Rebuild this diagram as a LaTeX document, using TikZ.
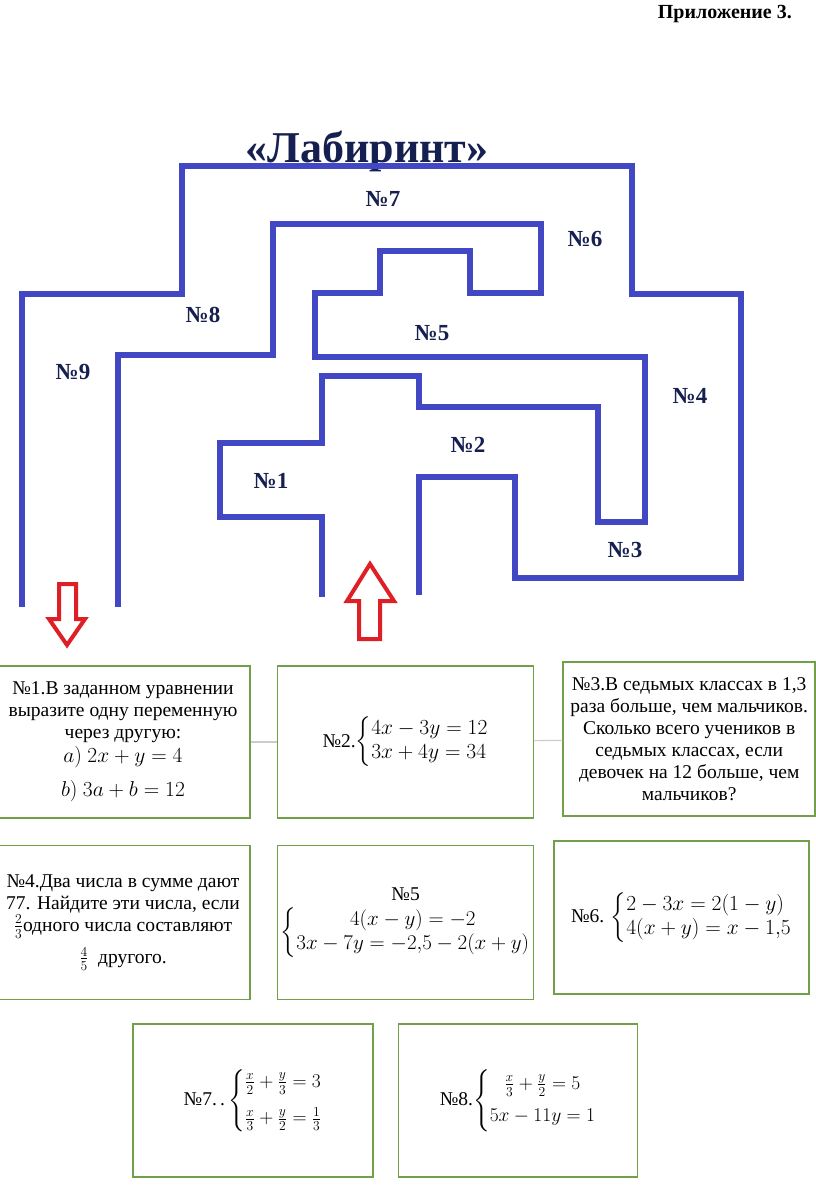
\RequirePackage{fix-cm}
\documentclass[tikz,border=0pt]{standalone}
\usepackage{fontspec}
\setmainfont{Liberation Serif}
\usepackage{amsmath}
\usetikzlibrary{positioning}

\definecolor{wallblue}{RGB}{66,72,196}
\definecolor{inkblue}{RGB}{22,32,80}
\definecolor{boxgreen}{RGB}{114,160,72}
\definecolor{arrowred}{RGB}{222,32,38}

\newcommand{\eqsize}{\fontsize{21.5}{20}\selectfont}
\newcommand{\eqsys}[2][l]{\left\{\def\arraystretch{1.2}\begin{array}{@{}#1@{}}#2\end{array}\right.}

\begin{document}
\begin{tikzpicture}[
    x=1pt, y=-1pt,
    every node/.style={font=\rmfamily\fontsize{19.5}{22}\selectfont},
    wall/.style={
        line width=6pt,
        draw=wallblue
    },
    room/.style={
        font=\rmfamily\fontsize{23}{26}\selectfont\bfseries,
        text=inkblue
    },
    task/.style={
        rectangle,
        draw=boxgreen,
        line width=1.6pt,
        align=center,
        minimum width=254pt,
        minimum height=152pt
    },
    link/.style={
        draw=gray!40,
        line width=1.2pt
    },
    pointer/.style={
        draw=arrowred,
        line width=4pt,
        fill=white
    }
]
\useasboundingbox (0,0) rectangle (816,1200);

% Header
\node (appendix) [font=\fontsize{20}{22}\selectfont\bfseries, inner sep=0pt, anchor=base east] at (792,18) {Приложение 3.};
\node (title) [font=\fontsize{44}{48}\selectfont\bfseries, text=inkblue, inner sep=0pt, anchor=base] at (367,162) {«Лабиринт»};

% Maze walls
\draw [wall] (22,607) -- (22,294) -- (182,294) -- (182,166) -- (632,166) -- (632,294)
    -- (741,294) -- (741,578) -- (515,578) -- (515,477) -- (419,477) -- (419,595);
\draw [wall] (118,607) -- (118,355) -- (273,355) -- (273,224) -- (541,224) -- (541,293)
    -- (470,293) -- (470,251) -- (380,251) -- (380,293) -- (315,293) -- (315,357)
    -- (645,357) -- (645,522) -- (598,522) -- (598,407) -- (419,407) -- (419,376)
    -- (322,376) -- (322,443) -- (220,443) -- (220,517) -- (322,517) -- (322,597);

% Room numbers
\node (room1) [room] at (271,481) {№1};
\node (room2) [room] at (468,445) {№2};
\node (room3) [room] at (625,550) {№3};
\node (room4) [room] at (690,396) {№4};
\node (room5) [room] at (432,333) {№5};
\node (room6) [room] at (585,239) {№6};
\node (room7) [room] at (383,199) {№7};
\node (room8) [room] at (203,315) {№8};
\node (room9) [room] at (73,372) {№9};

% Exit and entrance
\draw [pointer] (59,584) -- (76,584) -- (76,619) -- (85,619) -- (67,645) -- (49,619) -- (59,619) -- cycle;
\draw [pointer] (359,639) -- (380,639) -- (380,601) -- (394,601) -- (370,564) -- (347,601) -- (359,601) -- cycle;

% Tasks - first row
\node (task1) [task] at (123,742) {№1.В заданном уравнении\\ выразите одну переменную\\ через другую:\\[2pt] {\eqsize$a)\ 2x+y=4$}\\[12pt] {\eqsize$b)\ 3a+b=12$}};
\node (task2) [task, right=26pt of task1, minimum width=256pt] {№2.{\eqsize$\eqsys{4x-3y=12\\3x+4y=34}$}};
\node (task3) [task, right=28pt of task2, minimum width=252pt, minimum height=154pt, yshift=3pt] {№3.В седьмых классах в 1,3\\ раза больше, чем мальчиков.\\ Сколько всего учеников в\\ седьмых классах, если\\ девочек на 12 больше, чем\\ мальчиков?};

% Tasks - second row
\node (task4) [task, below=26pt of task1, minimum height=154pt] {№4.Два числа в сумме дают\\ 77. Найдите эти числа, если\\ $\frac{2}{3}$одного числа составляют\\[8pt] $\frac{4}{5}$\ \ другого.};
\node (task5) [task, below=26pt of task2, minimum width=256pt, minimum height=154pt] {№5\\[6pt] {\fontsize{21}{20}\selectfont$\eqsys[c]{4(x-y)=-2\\3x-7y=-2{,}5-2(x+y)}$}};
\node (task6) [task, minimum width=255pt, minimum height=153pt] at (681.5,917.5) {№6. {\eqsize$\eqsys{2-3x=2(1-y)\\4(x+y)=x-1{,}5}$}};

% Tasks - third row
\node (task7) [task, minimum width=240pt, minimum height=153pt] at (253,1100.5) {№7.\,.\,$\eqsys{\frac{x}{2}+\frac{y}{3}=3\\[10pt]\frac{x}{3}+\frac{y}{2}=\frac{1}{3}}$};
\node (task8) [task, right=24pt of task7, minimum width=239pt, minimum height=153pt] {№8.$\eqsys[c]{\frac{x}{3}+\frac{y}{2}=5\\[6pt]5x-11y=1}$};

% Links between first row
\draw [link] (task1) -- (task2);
\draw [link] (task2) -- (task3);

\end{tikzpicture}
\end{document}
